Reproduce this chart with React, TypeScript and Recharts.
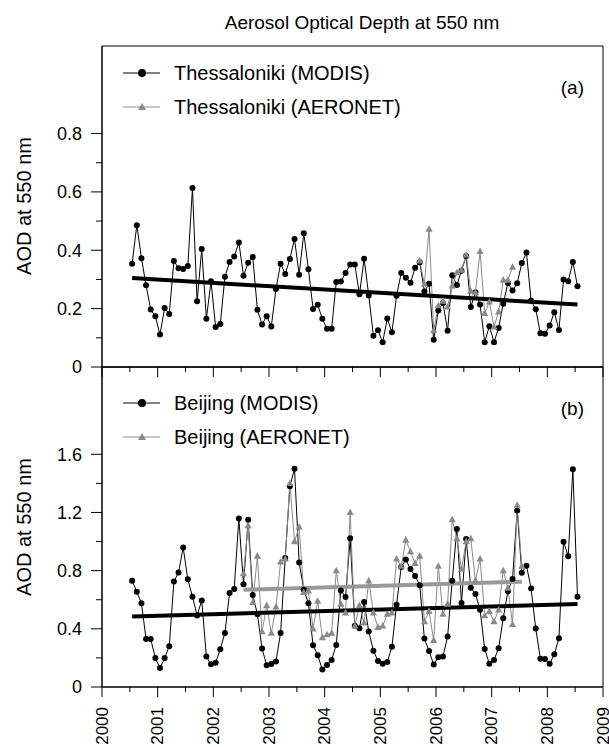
import React from "react";
import { LineChart, Line, XAxis, YAxis, ReferenceArea, ReferenceLine } from "recharts";

// monthly means, first month = July 2000
const START_YEAR = 2000;
const START_MONTH = 7;

const thesModis = [
  0.354, 0.486, 0.373, 0.28, 0.197, 0.174, 0.111, 0.202, 0.182, 0.363, 0.338, 0.336,
  0.346, 0.613, 0.225, 0.404, 0.165, 0.294, 0.137, 0.147, 0.309, 0.36, 0.379, 0.427,
  0.313, 0.357, 0.377, 0.196, 0.146, 0.174, 0.139, 0.267, 0.354, 0.319, 0.37, 0.439,
  0.316, 0.458, 0.335, 0.199, 0.213, 0.165, 0.131, 0.131, 0.291, 0.293, 0.322, 0.351,
  0.351, 0.249, 0.371, 0.245, 0.107, 0.126, 0.085, 0.166, 0.119, 0.244, 0.322, 0.306,
  0.289, 0.34, 0.359, 0.259, 0.285, 0.093, 0.194, 0.219, 0.124, 0.314, 0.281, 0.33,
  0.38, 0.206, 0.256, 0.214, 0.085, 0.14, 0.085, 0.134, 0.217, 0.288, 0.262, 0.287,
  0.356, 0.392, 0.227, 0.198, 0.116, 0.114, 0.142, 0.188, 0.127, 0.3, 0.294, 0.36,
  0.277,
];

// Thessaloniki AERONET starts Sep 2005 (month index 62)
const THES_AERONET_START = 62;
const thesAeronet = [
  0.364, 0.284, 0.472, 0.125, 0.21, 0.226, 0.206, 0.278, 0.323, 0.332, 0.384, 0.26,
  0.255, 0.396, 0.184, 0.223, 0.137, 0.189, 0.298, 0.298, 0.342,
];

const beijModis = [
  0.73, 0.655, 0.575, 0.33, 0.33, 0.2, 0.13, 0.2, 0.28, 0.726, 0.788, 0.959,
  0.74, 0.621, 0.492, 0.595, 0.209, 0.156, 0.167, 0.26, 0.372, 0.646, 0.674, 1.159,
  0.706, 1.149, 0.632, 0.501, 0.265, 0.15, 0.158, 0.175, 0.372, 0.887, 1.38, 1.5,
  0.856, 0.669, 0.575, 0.287, 0.218, 0.12, 0.152, 0.186, 0.289, 0.664, 0.618, 1.023,
  0.421, 0.404, 0.584, 0.381, 0.25, 0.179, 0.159, 0.172, 0.276, 0.566, 0.825, 0.876,
  0.811, 0.763, 0.7, 0.333, 0.248, 0.154, 0.204, 0.209, 0.347, 0.731, 1.087, 0.577,
  1.018, 0.683, 0.64, 0.531, 0.262, 0.159, 0.186, 0.267, 0.473, 0.658, 0.742, 1.214,
  0.786, 0.834, 0.678, 0.402, 0.195, 0.193, 0.159, 0.225, 0.336, 0.999, 0.899, 1.497,
  0.621,
];

// Beijing AERONET starts Jul 2002 (month index 24)
const BEIJ_AERONET_START = 24;
const beijAeronet = [
  0.78, 1.11, 0.58, 0.9, 0.38, 0.56, 0.37, 0.55, 0.86, 0.88, 1.4, 1.0,
  1.1, 0.65, 0.66, 0.4, 0.59, 0.34, 0.36, 0.37, 0.8, 0.57, 0.51, 1.2,
  0.42, 0.56, 0.44, 0.73, 0.51, 0.41, 0.42, 0.5, 0.51, 0.88, 0.83, 1.01,
  0.93, 0.85, 0.9, 0.45, 0.52, 0.32, 0.83, 0.5, 0.57, 1.15, 1.02, 0.81,
  1.0, 1.02, 0.73, 0.88, 0.49, 0.52, 0.45, 0.53, 0.8, 0.68, 0.43, 1.25,
  0.83,
];

// linear trends: [start value, end value]
const thesModisTrend = [0.305, 0.214];
const beijModisTrend = [0.485, 0.57];
const beijAeronetTrend = [0.669, 0.724];

const years = [2000, 2001, 2002, 2003, 2004, 2005, 2006, 2007, 2008, 2009];
const xTicks = years.flatMap((y) => (y < 2009 ? [y, y + 0.5] : [y]));
const topYTicks = [0, 0.1, 0.2, 0.3, 0.4, 0.5, 0.6, 0.7, 0.8];
const botYTicks = [0, 0.2, 0.4, 0.6, 0.8, 1.0, 1.2, 1.4, 1.6];

const FONT = '"Liberation Sans", Arial, Helvetica, sans-serif';
const GRAY = "#8a8a8a";

const monthX = (i: number) => START_YEAR + (START_MONTH - 1 + i + 0.5) / 12;

function buildRows(modis: number[], aero: number[], aeroStart: number) {
  return modis.map((v, i) => {
    const j = i - aeroStart;
    return {
      x: monthX(i),
      modis: v,
      aeronet: j >= 0 && j < aero.length ? aero[j] : null,
    };
  });
}

const thesRows = buildRows(thesModis, thesAeronet, THES_AERONET_START);
const beijRows = buildRows(beijModis, beijAeronet, BEIJ_AERONET_START);

const XTick = (props: any) => {
  const { x, y, payload, showLabel } = props;
  const major = Number.isInteger(payload.value);
  return (
    <g>
      <line x1={x} x2={x} y1={y} y2={y + (major ? 10 : 5)} stroke="#000" />
      {showLabel && major && (
        <text
          transform={`translate(${x + 5.5},${y + 20}) rotate(-90)`}
          textAnchor="end"
          fontSize={17}
          fontFamily={FONT}
          fill="#000"
        >
          {payload.value}
        </text>
      )}
    </g>
  );
};

const YTick = (props: any) => {
  const { x, y, payload, step } = props;
  const v = payload.value;
  const major = Math.round(v * 10) % step === 0;
  return (
    <g>
      <line x1={x - (major ? 11 : 6)} x2={x} y1={y} y2={y} stroke="#000" />
      {major && (
        <text x={x - 20} y={y} dy="0.35em" textAnchor="end" fontSize={18} fontFamily={FONT} fill="#000">
          {v === 0 ? "0" : v.toFixed(1)}
        </text>
      )}
    </g>
  );
};

const Triangle = (props: any) => {
  const { cx, cy, index } = props;
  if (cx == null || cy == null) return <g key={index} />;
  return (
    <polygon
      key={index}
      points={`${cx},${cy - 4} ${cx - 3.6},${cy + 2.6} ${cx + 3.6},${cy + 2.6}`}
      fill={GRAY}
    />
  );
};

function LegendRows({ y, names }: { y: number; names: string[] }) {
  return (
    <g fontFamily={FONT} fontSize={20}>
      <line x1={123} x2={160} y1={y} y2={y} stroke="#000" />
      <circle cx={142} cy={y} r={4} fill="#000" />
      <text x={174} y={y} dy="0.35em">{names[0]}</text>
      <line x1={123} x2={160} y1={y + 34} y2={y + 34} stroke={GRAY} />
      <polygon points={`142,${y + 30} 138,${y + 37} 146,${y + 37}`} fill={GRAY} />
      <text x={174} y={y + 34} dy="0.35em">{names[1]}</text>
    </g>
  );
}

export default function App() {
  return (
    <div style={{ position: "absolute", left: 0, top: 0, width: 609, height: 747, background: "#fff" }}>
      <div style={{ position: "absolute", left: 0, top: 0 }}>
        <LineChart width={609} height={380} data={thesRows} margin={{ top: 46, right: 6, left: 0, bottom: 0 }}>
          <XAxis
            dataKey="x"
            type="number"
            domain={[2000, 2009]}
            ticks={xTicks}
            interval={0}
            height={13}
            tickSize={0}
            tickMargin={0}
            tickLine={false}
            axisLine={{ stroke: "#000" }}
            tick={(p: any) => <XTick {...p} showLabel={false} />}
          />
          <YAxis
            type="number"
            domain={[0, 1.1]}
            ticks={topYTicks}
            interval={0}
            width={102}
            tickSize={0}
            tickMargin={0}
            tickLine={false}
            axisLine={{ stroke: "#000" }}
            allowDataOverflow
            tick={(p: any) => <YTick {...p} step={2} />}
          />
          <ReferenceArea x1={2000} x2={2009} y1={0} y2={1.1} fill="none" stroke="#000" strokeWidth={1} />
          <Line
            dataKey="modis"
            stroke="#000"
            strokeWidth={1}
            dot={{ r: 3, fill: "#000", stroke: "none" }}
            activeDot={false}
            isAnimationActive={false}
          />
          <Line
            dataKey="aeronet"
            stroke={GRAY}
            strokeWidth={1}
            dot={(p: any) => <Triangle {...p} />}
            activeDot={false}
            isAnimationActive={false}
          />
          <ReferenceLine
            segment={[
              { x: thesRows[0].x, y: thesModisTrend[0] },
              { x: thesRows[thesRows.length - 1].x, y: thesModisTrend[1] },
            ]}
            stroke="#000"
            strokeWidth={4}
          />
        </LineChart>
      </div>
      <div style={{ position: "absolute", left: 0, top: 0 }}>
        <LineChart width={609} height={747} data={beijRows} margin={{ top: 367, right: 6, left: 0, bottom: 0 }}>
          <XAxis
            dataKey="x"
            type="number"
            domain={[2000, 2009]}
            ticks={xTicks}
            interval={0}
            height={60}
            tickSize={0}
            tickMargin={0}
            tickLine={false}
            axisLine={{ stroke: "#000" }}
            tick={(p: any) => <XTick {...p} showLabel />}
          />
          <YAxis
            type="number"
            domain={[0, 2.2]}
            ticks={botYTicks}
            interval={0}
            width={102}
            tickSize={0}
            tickMargin={0}
            tickLine={false}
            axisLine={{ stroke: "#000" }}
            allowDataOverflow
            tick={(p: any) => <YTick {...p} step={4} />}
          />
          <ReferenceArea x1={2000} x2={2009} y1={0} y2={2.2} fill="none" stroke="#000" strokeWidth={1} />
          <Line
            dataKey="modis"
            stroke="#000"
            strokeWidth={1}
            dot={{ r: 3, fill: "#000", stroke: "none" }}
            activeDot={false}
            isAnimationActive={false}
          />
          <Line
            dataKey="aeronet"
            stroke={GRAY}
            strokeWidth={1}
            dot={(p: any) => <Triangle {...p} />}
            activeDot={false}
            isAnimationActive={false}
          />
          <ReferenceLine
            segment={[
              { x: beijRows[0].x, y: beijModisTrend[0] },
              { x: beijRows[beijRows.length - 1].x, y: beijModisTrend[1] },
            ]}
            stroke="#000"
            strokeWidth={4}
          />
          <ReferenceLine
            segment={[
              { x: monthX(BEIJ_AERONET_START), y: beijAeronetTrend[0] },
              { x: monthX(BEIJ_AERONET_START + beijAeronet.length - 1), y: beijAeronetTrend[1] },
            ]}
            stroke="#999"
            strokeWidth={4}
          />
        </LineChart>
      </div>
      <svg width={609} height={747} style={{ position: "absolute", left: 0, top: 0, pointerEvents: "none" }}>
        <text x={362} y={22} textAnchor="middle" dy="0.35em" fontSize={19} fontFamily={FONT}>
          Aerosol Optical Depth at 550 nm
        </text>
        <text transform="translate(24,206) rotate(-90)" textAnchor="middle" dy="0.35em" fontSize={20} fontFamily={FONT}>
          AOD at 550 nm
        </text>
        <text transform="translate(24,527) rotate(-90)" textAnchor="middle" dy="0.35em" fontSize={20} fontFamily={FONT}>
          AOD at 550 nm
        </text>
        <LegendRows y={73} names={["Thessaloniki (MODIS)", "Thessaloniki (AERONET)"]} />
        <LegendRows y={403} names={["Beijing (MODIS)", "Beijing (AERONET)"]} />
        <text x={584} y={87} textAnchor="end" dy="0.35em" fontSize={19} fontFamily={FONT}>(a)</text>
        <text x={584} y={408} textAnchor="end" dy="0.35em" fontSize={19} fontFamily={FONT}>(b)</text>
      </svg>
    </div>
  );
}
